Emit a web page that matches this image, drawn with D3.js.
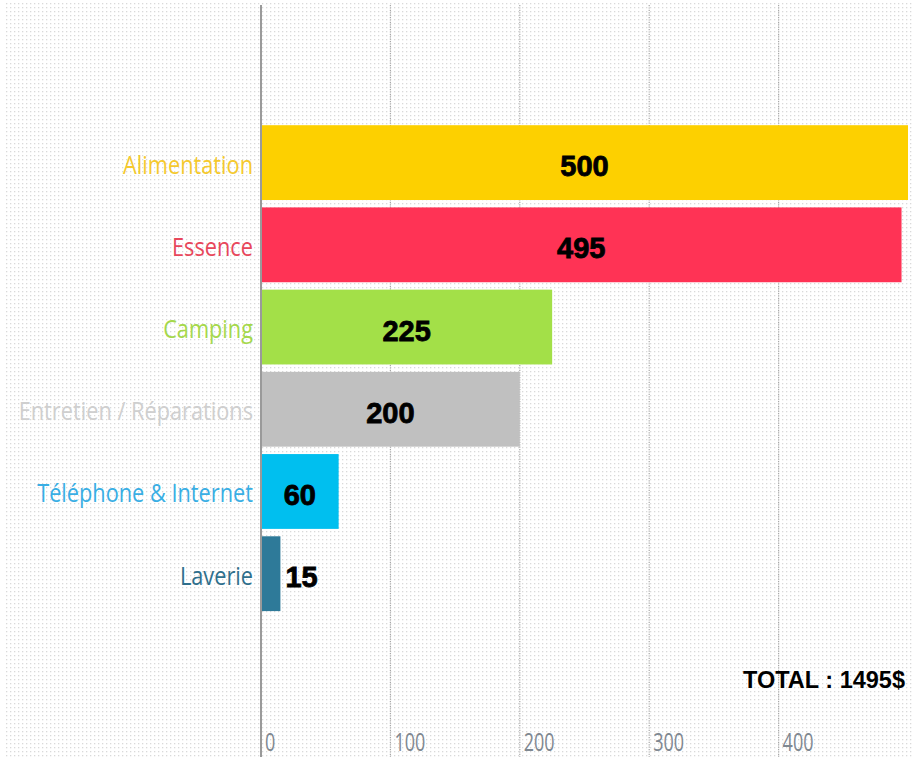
<!DOCTYPE html>
<html>
<head>
<meta charset="utf-8">
<script src="https://cdn.jsdelivr.net/npm/d3@7"></script>
<style>
  html, body { margin: 0; padding: 0; background: #ffffff; }
  svg { display: block; }
</style>
</head>
<body>
<svg id="chart" width="912" height="757"></svg>
<script>
// ---- data ----
const categories = ["Alimentation", "Essence", "Camping", "Entretien / Réparations", "Téléphone & Internet", "Laverie"];
const values = [500, 495, 225, 200, 60, 15];
const barColors = ["#FDD000", "#FF3355", "#A3E048", "#C0C0C0", "#00BFEF", "#2E7A99"];
const labelColors = ["#F5C92E", "#E8475B", "#A5D84C", "#CFCFCF", "#39AEE4", "#2F6F8C"];
const tickValues = [0, 100, 200, 300, 400];
const totalText = "TOTAL : 1495$";

// ---- layout ----
const W = 912, H = 757;
const svg = d3.select("#chart");

const x = d3.scaleLinear().domain([0, 500]).range([261, 908]);
const y = d3.scaleBand().domain(categories).range([121.5, 614.8]).paddingInner(0.09).paddingOuter(0.045);

// dotted background
const defs = svg.append("defs");
const pat = defs.append("pattern").attr("id", "dots").attr("patternUnits", "userSpaceOnUse")
  .attr("x", 6).attr("y", 3).attr("width", 4).attr("height", 4);
pat.append("rect").attr("x", 0).attr("y", 0).attr("width", 1.3).attr("height", 1.3).attr("fill", "#d9d9d9");
svg.append("rect").attr("x", 5).attr("y", 3).attr("width", W - 5).attr("height", H - 3).attr("fill", "url(#dots)");

// grid lines
svg.append("g").selectAll("line").data(tickValues.filter(d => d > 0)).join("line")
  .attr("x1", d => x(d)).attr("x2", d => x(d))
  .attr("y1", 5).attr("y2", H)
  .attr("stroke", "#a8a8a8").attr("stroke-width", 1.2).attr("stroke-dasharray", "1.2,1.2");

// zero line
svg.append("line").attr("x1", x(0)).attr("x2", x(0)).attr("y1", 5).attr("y2", H)
  .attr("stroke", "#9a9a9a").attr("stroke-width", 2);

// bars
const data = categories.map((c, i) => ({ c, v: values[i], col: barColors[i], lcol: labelColors[i] }));
svg.append("g").selectAll("rect").data(data).join("rect")
  .attr("x", x(0) + 1).attr("y", d => y(d.c))
  .attr("width", d => x(d.v) - x(0) - 1)
  .attr("height", y.bandwidth())
  .attr("fill", d => d.col);

// category labels
svg.append("g").selectAll("text").data(data).join("text")
  .attr("transform", d => `translate(${x(0) - 8},${y(d.c) + y.bandwidth() / 2 + 11}) scale(0.87,1)`)
  .attr("text-anchor", "end")
  .attr("font-family", "'Open Sans', 'Noto Sans', sans-serif")
  .attr("font-size", 25)
  .attr("fill", d => d.lcol)
  .text(d => d.c);

// value labels
svg.append("g").selectAll("text").data(data).join("text")
  .attr("x", d => (x(d.v) - x(0) > 50) ? (x(0) + x(d.v)) / 2 : x(d.v) + 5)
  .attr("y", d => y(d.c) + y.bandwidth() / 2 + 13.5)
  .attr("text-anchor", d => (x(d.v) - x(0) > 50) ? "middle" : "start")
  .attr("font-family", "'Liberation Sans', Arial, sans-serif")
  .attr("font-weight", "bold")
  .attr("font-size", 29)
  .attr("fill", "#000")
  .attr("stroke", "#000").attr("stroke-width", 0.8)
  .text(d => d.v);

// axis tick labels
svg.append("g").selectAll("text").data(tickValues).join("text")
  .attr("transform", d => `translate(${x(d) + 4},751) scale(0.72,1)`)
  .attr("text-anchor", "start")
  .attr("font-family", "'Open Sans', 'Noto Sans', sans-serif")
  .attr("font-size", 25)
  .attr("fill", "#7f8891")
  .text(d => d);

// total
svg.append("text")
  .attr("x", 905).attr("y", 688)
  .attr("text-anchor", "end")
  .attr("font-family", "'Liberation Sans', Arial, sans-serif")
  .attr("font-weight", "bold")
  .attr("font-size", 23.5)
  .attr("fill", "#000")
  .text(totalText);
</script>
</body>
</html>
